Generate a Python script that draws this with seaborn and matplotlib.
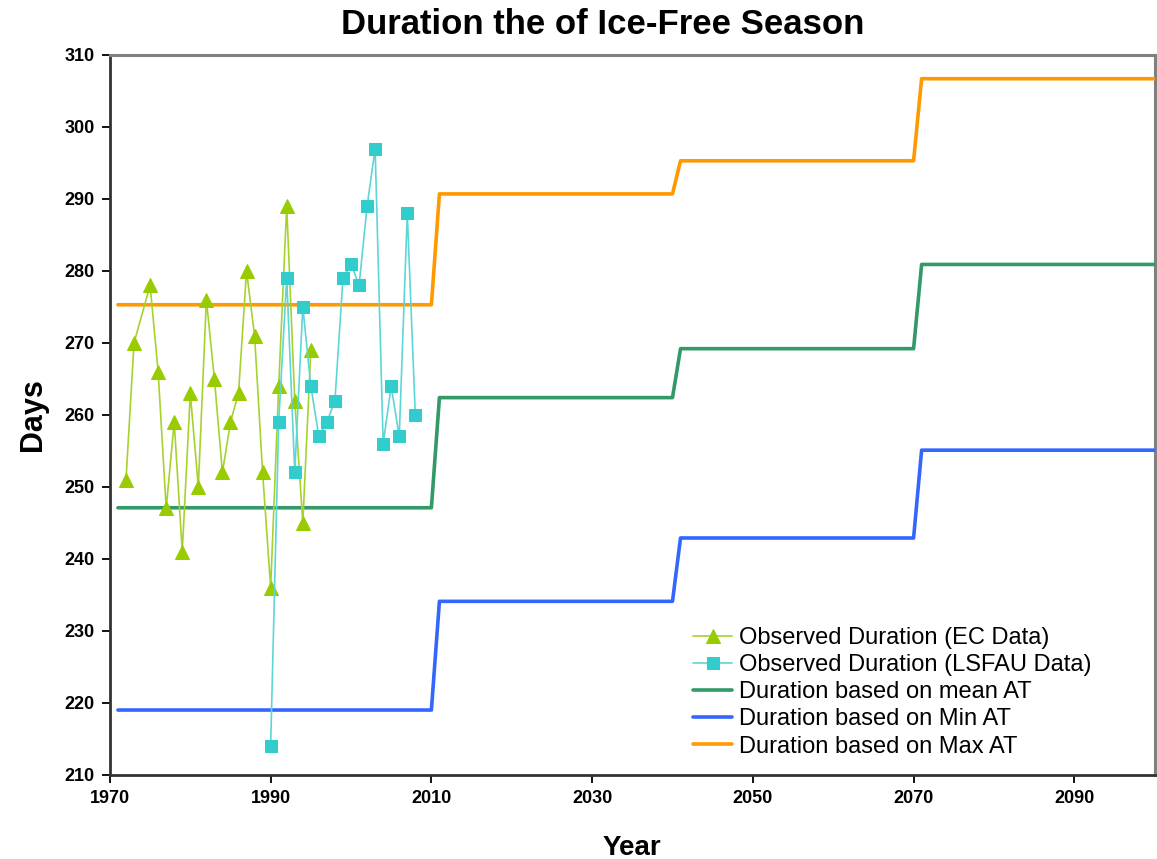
import numpy as np
import pandas as pd
import matplotlib
matplotlib.use('Agg')
import matplotlib.pyplot as plt
import seaborn as sns

# observed ice-free season (EC data)
ec_years = [1972, 1973, 1975, 1976, 1977, 1978, 1979, 1980, 1981, 1982, 1983, 1984,
            1985, 1986, 1987, 1988, 1989, 1990, 1991, 1992, 1993, 1994, 1995]
ec_days = [251, 270, 278, 266, 247, 259, 241, 263, 250, 276, 265, 252,
           259, 263, 280, 271, 252, 236, 264, 289, 262, 245, 269]

# observed (LSFAU data)
lsfau_years = list(range(1990, 2009))
lsfau_days = [214, 259, 279, 252, 275, 264, 257, 259, 262, 279,
              281, 278, 289, 297, 256, 264, 257, 288, 260]

# projected durations per period
period_start = [1971, 2011, 2041, 2071]
period_end = [2010, 2040, 2070, 2100]
mean_at = [247.1, 262.4, 269.2, 280.9]
min_at = [219.0, 234.1, 242.9, 255.1]
max_at = [275.3, 290.7, 295.3, 306.7]


def step_frame(vals):
    xs, ys = [], []
    for s, e, v in zip(period_start, period_end, vals):
        xs += [s, e]
        ys += [v, v]
    return pd.DataFrame({'Year': xs, 'Days': ys})


sns.set_style('white')
plt.rcParams['font.family'] = ['Liberation Sans', 'DejaVu Sans']
plt.rcParams['text.color'] = 'black'
plt.rcParams['axes.labelcolor'] = 'black'
plt.rcParams['xtick.color'] = 'black'
plt.rcParams['ytick.color'] = 'black'

fig = plt.figure(figsize=(11.57, 8.59), dpi=100)
ax = fig.add_axes([0.095, 0.098, 0.903, 0.838])

ec = pd.DataFrame({'Year': ec_years, 'Days': ec_days})
ls = pd.DataFrame({'Year': lsfau_years, 'Days': lsfau_days})

sns.lineplot(data=ec, x='Year', y='Days', ax=ax, color='#A6D22E', linewidth=1.2,
             marker='^', markersize=10.5, markerfacecolor='#99CC00', markeredgecolor='#99CC00',
             label='Observed Duration (EC Data)', zorder=5)
sns.lineplot(data=ls, x='Year', y='Days', ax=ax, color='#5CD6D6', linewidth=1.2,
             marker='s', markersize=9, markerfacecolor='#33CCCC', markeredgecolor='#33CCCC',
             label='Observed Duration (LSFAU Data)', zorder=6)
sns.lineplot(data=step_frame(mean_at), x='Year', y='Days', ax=ax, color='#339966',
             linewidth=2.6, label='Duration based on mean AT', zorder=3)
sns.lineplot(data=step_frame(min_at), x='Year', y='Days', ax=ax, color='#3366FF',
             linewidth=2.6, label='Duration based on Min AT', zorder=3)
sns.lineplot(data=step_frame(max_at), x='Year', y='Days', ax=ax, color='#FF9900',
             linewidth=2.6, label='Duration based on Max AT', zorder=3)

ax.set_xlim(1970, 2100)
ax.set_ylim(210, 310)
ax.set_xticks(range(1970, 2100, 20))
ax.set_yticks(range(210, 311, 10))

for sp in ['top', 'right']:
    ax.spines[sp].set_color('#808080')
    ax.spines[sp].set_linewidth(2.2)
for sp in ['left', 'bottom']:
    ax.spines[sp].set_color('#333333')
    ax.spines[sp].set_linewidth(2.0)

ax.tick_params(axis='both', direction='out', length=6, width=1.3, color='black',
               labelsize=13, pad=5, bottom=True, left=True)
ax.tick_params(axis='x', pad=5)
for lbl in ax.get_xticklabels() + ax.get_yticklabels():
    lbl.set_fontweight('bold')

ax.set_xlabel('Year', fontsize=20, fontweight='bold', labelpad=20)
ax.set_ylabel('Days', fontsize=22, fontweight='bold', labelpad=12)
fig.text(0.521, 0.972, 'Duration the of Ice-Free Season', fontsize=25,
         fontweight='bold', ha='center', va='center')

ax.legend(loc='upper left', bbox_to_anchor=(0.589, 0.284), bbox_transform=fig.transFigure,
          frameon=False, fontsize=17, handlelength=1.65, handletextpad=0.3,
          labelspacing=0.22, borderpad=0)

fig.savefig('out.png', dpi=100)
